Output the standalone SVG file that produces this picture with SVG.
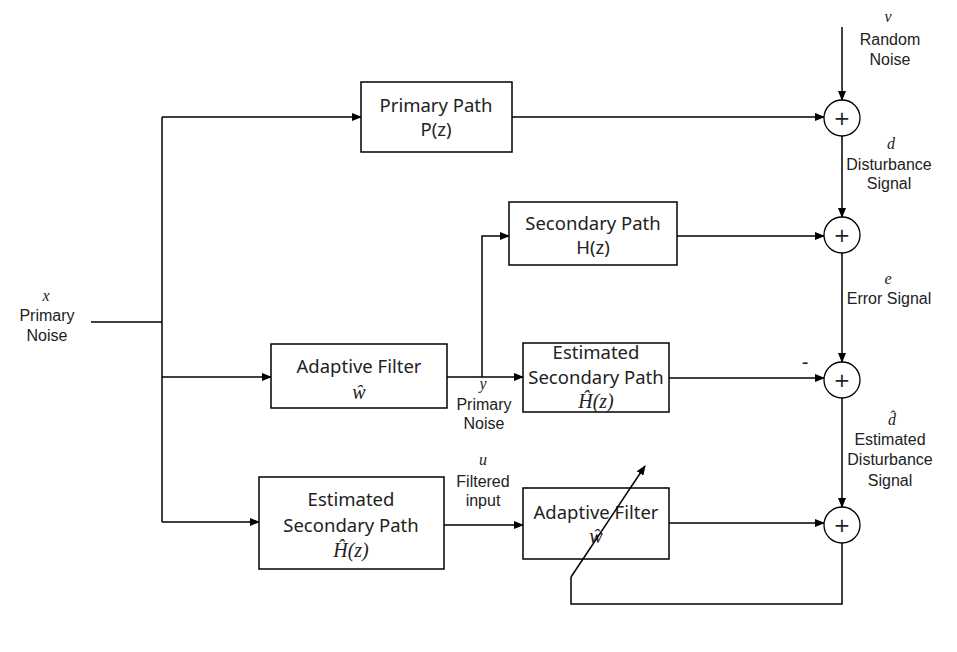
<svg xmlns="http://www.w3.org/2000/svg" width="957" height="652" viewBox="0 0 957 652">
<defs>
<marker id="ah" markerWidth="10" markerHeight="8" refX="9" refY="4" orient="auto" markerUnits="userSpaceOnUse">
<path d="M0,0 L10,4 L0,8 Z" fill="#000"/>
</marker>
<style>
.box{fill:#fff;stroke:#000;stroke-width:1.5}
.sum{fill:#fff;stroke:#000;stroke-width:1.3}
.ln{fill:none;stroke:#000;stroke-width:1.5}
.t{font-family:"Noto Sans","Open Sans",sans-serif;font-size:18.5px;fill:#222;text-anchor:middle}
.s{font-family:"Liberation Sans",Arial,sans-serif;font-size:16px;fill:#222;text-anchor:middle}
.m{font-family:"Liberation Serif","DejaVu Serif",serif;font-style:italic;font-size:16px;fill:#222;text-anchor:middle}
.mb{font-family:"Liberation Serif","DejaVu Serif",serif;font-style:italic;font-size:20px;fill:#222;text-anchor:middle}
.p{font-family:"DejaVu Sans","Noto Sans",sans-serif;font-size:20px;fill:#222;text-anchor:middle}
</style>
</defs>
<rect width="957" height="652" fill="#fff"/>

<g id="connectors">
<path class="ln" d="M91,322 H162"/>
<path class="ln" d="M162,117 V522"/>
<path class="ln" d="M162,117 H361" marker-end="url(#ah)"/>
<path class="ln" d="M162,377 H271" marker-end="url(#ah)"/>
<path class="ln" d="M162,522 H259" marker-end="url(#ah)"/>
<path class="ln" d="M447,377 H523" marker-end="url(#ah)"/>
<path class="ln" d="M482,377 V236 H509" marker-end="url(#ah)"/>
<path class="ln" d="M444,525 H523" marker-end="url(#ah)"/>
<path class="ln" d="M512,117 H824" marker-end="url(#ah)"/>
<path class="ln" d="M677,236 H824" marker-end="url(#ah)"/>
<path class="ln" d="M669,378 H824" marker-end="url(#ah)"/>
<path class="ln" d="M669,523 H824" marker-end="url(#ah)"/>
<path class="ln" d="M842,27 V100" marker-end="url(#ah)"/>
<path class="ln" d="M842,136 V217" marker-end="url(#ah)"/>
<path class="ln" d="M842,253 V362" marker-end="url(#ah)"/>
<path class="ln" d="M842,398 V507" marker-end="url(#ah)"/>
<path class="ln" d="M842,543 V604 H571 V577"/>
</g>

<g id="primary-path">
<rect class="box" x="361" y="82" width="151" height="70"/>
<text class="t" x="436" y="112">Primary Path</text>
<text class="t" x="436" y="136">P(z)</text>
</g>

<g id="secondary-path">
<rect class="box" x="509" y="202" width="168" height="63"/>
<text class="t" x="593" y="230">Secondary Path</text>
<text class="t" x="593" y="254">H(z)</text>
</g>

<g id="adaptive-filter-1">
<rect class="box" x="271" y="344" width="176" height="64"/>
<text class="t" x="359" y="373">Adaptive Filter</text>
<text class="mb" x="359" y="399">ŵ</text>
</g>

<g id="est-secondary-path-1">
<rect class="box" x="523" y="343" width="146" height="69"/>
<text class="t" x="596" y="359">Estimated</text>
<text class="t" x="596" y="384">Secondary Path</text>
<text class="mb" x="596" y="408">Ĥ(z)</text>
</g>

<g id="est-secondary-path-2">
<rect class="box" x="259" y="477" width="185" height="92"/>
<text class="t" x="351" y="506">Estimated</text>
<text class="t" x="351" y="532">Secondary Path</text>
<text class="mb" x="351" y="557">Ĥ(z)</text>
</g>

<g id="adaptive-filter-2">
<rect class="box" x="523" y="488" width="146" height="71"/>
<text class="t" x="596" y="519">Adaptive Filter</text>
<text class="mb" x="596" y="543">ŵ</text>
</g>

<g id="adaptation-arrow">
<path class="ln" d="M571,577 L645,466" marker-end="url(#ah)"/>
</g>

<g id="sum-1"><circle class="sum" cx="842" cy="118" r="18"/><text class="p" x="842" y="125">+</text></g>
<g id="sum-2"><circle class="sum" cx="842" cy="235" r="18"/><text class="p" x="842" y="242">+</text></g>
<g id="sum-3"><circle class="sum" cx="842" cy="380" r="18"/><text class="p" x="842" y="387">+</text></g>
<g id="sum-4"><circle class="sum" cx="842" cy="525" r="18"/><text class="p" x="842" y="532">+</text></g>

<g id="labels">
<text class="m" x="46" y="301">x</text>
<text class="s" x="47" y="321">Primary</text>
<text class="s" x="47" y="341">Noise</text>

<text class="m" x="888" y="22">v</text>
<text class="s" x="890" y="45">Random</text>
<text class="s" x="890" y="65">Noise</text>

<text class="m" x="891" y="149">d</text>
<text class="s" x="889" y="170">Disturbance</text>
<text class="s" x="889" y="189">Signal</text>

<text class="m" x="888" y="284">e</text>
<text class="s" x="889" y="304">Error Signal</text>

<text class="s" x="805" y="369" style="font-size:20px">-</text>

<text class="m" x="892" y="425">d̂</text>
<text class="s" x="890" y="445">Estimated</text>
<text class="s" x="890" y="465">Disturbance</text>
<text class="s" x="890" y="486">Signal</text>

<text class="m" x="483" y="389">y</text>
<text class="s" x="484" y="410">Primary</text>
<text class="s" x="484" y="429">Noise</text>

<text class="m" x="483" y="465">u</text>
<text class="s" x="483" y="487">Filtered</text>
<text class="s" x="483" y="506">input</text>
</g>
</svg>
